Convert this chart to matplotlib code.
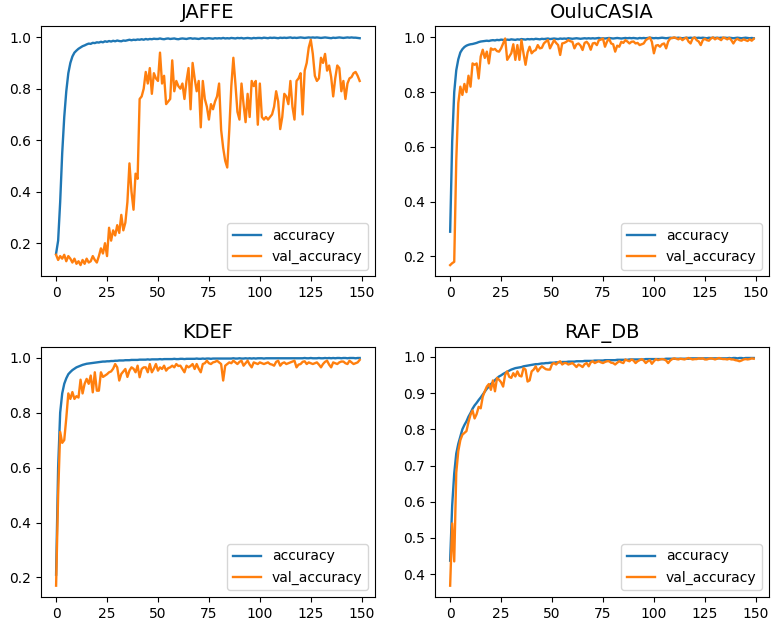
import numpy as np
import matplotlib
matplotlib.use("Agg")
import matplotlib.pyplot as plt

# epochs
epochs = np.arange(150)

# JAFFE
jaffe_acc = [0.16, 0.21, 0.36, 0.55, 0.69, 0.79, 0.86, 0.90, 0.925, 0.94,
             0.948, 0.955, 0.96, 0.965, 0.968, 0.972, 0.975, 0.974, 0.978, 0.977,
             0.98, 0.979, 0.982, 0.98, 0.984, 0.982, 0.985, 0.983, 0.986, 0.984,
             0.987, 0.985, 0.984, 0.987, 0.986, 0.988, 0.99, 0.988, 0.99, 0.989,
             0.991, 0.99, 0.992, 0.99, 0.993, 0.991, 0.993, 0.992, 0.994, 0.993,
             0.993, 0.995, 0.993, 0.992, 0.994, 0.995, 0.993, 0.994, 0.995, 0.993,
             0.992, 0.994, 0.995, 0.994, 0.993, 0.995, 0.996, 0.994, 0.995, 0.994,
             0.993, 0.995, 0.996, 0.994, 0.995, 0.996, 0.995, 0.994, 0.996, 0.995,
             0.996, 0.995, 0.997, 0.995, 0.996, 0.995, 0.997, 0.996, 0.995, 0.997,
             0.996, 0.997, 0.995, 0.996, 0.997, 0.996, 0.995, 0.997, 0.996, 0.997,
             0.997, 0.996, 0.998, 0.997, 0.996, 0.998, 0.997, 0.998, 0.997, 0.996,
             0.998, 0.997, 0.998, 0.997, 0.998, 0.999, 0.997, 0.998, 0.997, 0.998,
             0.999, 0.998, 0.997, 0.998, 0.999, 0.998, 0.999, 0.998, 0.999, 0.998,
             0.997, 0.998, 0.999, 0.998, 0.997, 0.996, 0.998, 0.997, 0.998, 0.999,
             0.998, 0.997, 0.998, 0.999, 0.998, 0.999, 0.998, 0.998, 0.997, 0.996]
jaffe_val = [0.155, 0.135, 0.15, 0.14, 0.155, 0.13, 0.15, 0.14, 0.125, 0.14,
             0.12, 0.13, 0.115, 0.135, 0.12, 0.14, 0.125, 0.13, 0.15, 0.135,
             0.125, 0.15, 0.18, 0.16, 0.20, 0.15, 0.26, 0.21, 0.25, 0.23,
             0.27, 0.24, 0.31, 0.25, 0.28, 0.36, 0.51, 0.40, 0.33, 0.47,
             0.45, 0.76, 0.77, 0.80, 0.865, 0.82, 0.88, 0.78, 0.86, 0.84,
             0.83, 0.94, 0.82, 0.85, 0.74, 0.75, 0.76, 0.91, 0.79, 0.83,
             0.81, 0.80, 0.82, 0.76, 0.83, 0.88, 0.72, 0.90, 0.84, 0.79,
             0.83, 0.65, 0.83, 0.76, 0.73, 0.68, 0.74, 0.72, 0.75, 0.77,
             0.82, 0.64, 0.57, 0.52, 0.494, 0.64, 0.81, 0.92, 0.82, 0.71,
             0.68, 0.82, 0.74, 0.67, 0.78, 0.69, 0.83, 0.81, 0.83, 0.66,
             0.82, 0.69, 0.68, 0.69, 0.68, 0.69, 0.70, 0.73, 0.79, 0.75,
             0.643, 0.69, 0.78, 0.77, 0.74, 0.83, 0.73, 0.68, 0.83, 0.84,
             0.86, 0.70, 0.87, 0.90, 0.96, 0.99, 0.935, 0.85, 0.83, 0.84,
             0.92, 0.90, 0.935, 0.87, 0.89, 0.845, 0.77, 0.84, 0.89, 0.88,
             0.79, 0.83, 0.76, 0.82, 0.84, 0.845, 0.86, 0.865, 0.85, 0.83]

# OuluCASIA
oulu_acc = [0.29, 0.62, 0.80, 0.88, 0.92, 0.945, 0.957, 0.965, 0.97, 0.973,
            0.975, 0.976, 0.978, 0.98, 0.983, 0.985, 0.986, 0.987, 0.988, 0.987,
            0.989, 0.99, 0.989, 0.991, 0.99, 0.992, 0.991, 0.99, 0.992, 0.991,
            0.993, 0.992, 0.991, 0.993, 0.992, 0.994, 0.993, 0.992, 0.994, 0.993,
            0.994, 0.993, 0.995, 0.994, 0.993, 0.995, 0.994, 0.995, 0.996, 0.994,
            0.995, 0.996, 0.995, 0.994, 0.996, 0.995, 0.996, 0.995, 0.997, 0.996,
            0.995, 0.996, 0.997, 0.996, 0.995, 0.996, 0.997, 0.996, 0.997, 0.996,
            0.997, 0.996, 0.997, 0.998, 0.996, 0.997, 0.996, 0.997, 0.998, 0.997,
            0.996, 0.997, 0.998, 0.997, 0.996, 0.997, 0.998, 0.997, 0.998, 0.997,
            0.998, 0.997, 0.996, 0.998, 0.997, 0.998, 0.997, 0.998, 0.999, 0.998,
            0.997, 0.998, 0.997, 0.998, 0.999, 0.998, 0.997, 0.998, 0.999, 0.998,
            0.999, 0.998, 0.999, 0.998, 0.997, 0.998, 0.999, 0.998, 0.999, 0.998,
            0.999, 0.998, 0.999, 0.998, 0.999, 0.998, 0.997, 0.999, 0.998, 0.999,
            0.998, 0.999, 0.998, 0.999, 0.998, 0.999, 0.998, 0.999, 0.998, 0.997,
            0.998, 0.999, 0.998, 0.997, 0.998, 0.999, 0.998, 0.997, 0.998, 0.997]
oulu_val = [0.168, 0.175, 0.18, 0.55, 0.76, 0.82, 0.79, 0.83, 0.80, 0.86,
            0.82, 0.905, 0.90, 0.905, 0.85, 0.93, 0.955, 0.925, 0.948, 0.905,
            0.96, 0.955, 0.958, 0.95, 0.948, 0.96, 0.978, 0.996, 0.918, 0.93,
            0.942, 0.975, 0.918, 0.972, 0.918, 0.99, 0.942, 0.90, 0.945, 0.966,
            0.942, 0.95, 0.954, 0.972, 0.96, 0.962, 0.978, 0.985, 0.99, 0.96,
            0.975, 0.99, 0.98, 0.972, 0.936, 0.978, 0.98, 0.984, 0.99, 0.986,
            0.984, 0.96, 0.975, 0.978, 0.97, 0.954, 0.98, 0.984, 0.975, 0.955,
            0.978, 0.98, 0.972, 0.99, 0.992, 0.996, 0.966, 0.985, 0.996, 0.978,
            0.975, 0.948, 0.97, 0.966, 0.984, 0.98, 0.99, 0.985, 0.978, 0.984,
            0.985, 0.978, 0.98, 0.972, 0.975, 0.978, 0.99, 0.995, 1.0, 0.984,
            0.942, 0.97, 0.972, 0.966, 0.975, 0.978, 0.96, 0.985, 0.996, 0.998,
            1.0, 0.997, 0.993, 0.998, 0.99, 0.996, 0.999, 0.985, 0.978, 0.996,
            1.0, 0.99, 0.985, 0.972, 0.99, 0.995, 0.99, 0.988, 0.996, 1.0,
            0.993, 0.998, 0.995, 0.99, 1.0, 0.997, 0.993, 0.998, 0.99, 0.978,
            0.99, 0.995, 0.99, 0.988, 0.993, 0.99, 0.987, 0.993, 0.988, 0.995]

# KDEF
kdef_acc = [0.21, 0.60, 0.80, 0.87, 0.905, 0.925, 0.94, 0.948, 0.955, 0.96,
            0.965, 0.968, 0.971, 0.974, 0.976, 0.978, 0.979, 0.98, 0.981, 0.982,
            0.983, 0.984, 0.985, 0.986, 0.986, 0.987, 0.987, 0.988, 0.988, 0.989,
            0.989, 0.99, 0.99, 0.99, 0.991, 0.991, 0.991, 0.992, 0.992, 0.992,
            0.992, 0.993, 0.993, 0.993, 0.993, 0.994, 0.993, 0.994, 0.994, 0.994,
            0.994, 0.995, 0.994, 0.995, 0.995, 0.995, 0.995, 0.995, 0.996, 0.995,
            0.995, 0.996, 0.996, 0.995, 0.996, 0.996, 0.996, 0.996, 0.996, 0.997,
            0.996, 0.996, 0.997, 0.996, 0.997, 0.997, 0.996, 0.997, 0.997, 0.997,
            0.997, 0.997, 0.997, 0.997, 0.997, 0.997, 0.997, 0.998, 0.997, 0.997,
            0.998, 0.997, 0.997, 0.998, 0.997, 0.998, 0.997, 0.998, 0.997, 0.998,
            0.998, 0.998, 0.997, 0.998, 0.998, 0.998, 0.998, 0.998, 0.998, 0.998,
            0.998, 0.998, 0.998, 0.998, 0.998, 0.998, 0.998, 0.998, 0.998, 0.998,
            0.998, 0.998, 0.999, 0.998, 0.998, 0.999, 0.998, 0.998, 0.998, 0.999,
            0.998, 0.998, 0.999, 0.998, 0.999, 0.998, 0.999, 0.998, 0.999, 0.999,
            0.998, 0.999, 0.999, 0.998, 0.999, 0.999, 0.999, 0.998, 0.999, 0.999]
kdef_val = [0.17, 0.50, 0.73, 0.69, 0.70, 0.78, 0.87, 0.85, 0.875, 0.85,
            0.86, 0.855, 0.92, 0.87, 0.905, 0.923, 0.905, 0.935, 0.874, 0.947,
            0.88, 0.88, 0.947, 0.93, 0.935, 0.94, 0.947, 0.95, 0.96, 0.977,
            0.965, 0.917, 0.941, 0.95, 0.959, 0.93, 0.953, 0.965, 0.96, 0.947,
            0.971, 0.929, 0.959, 0.965, 0.965, 0.947, 0.977, 0.947, 0.96, 0.977,
            0.953, 0.965, 0.959, 0.971, 0.953, 0.962, 0.965, 0.971, 0.965, 0.977,
            0.97, 0.971, 0.959, 0.947, 0.971, 0.965, 0.97, 0.977, 0.959, 0.977,
            0.96, 0.947, 0.977, 0.98, 0.989, 0.98, 0.977, 0.983, 0.985, 0.989,
            0.983, 0.977, 0.917, 0.971, 0.977, 0.983, 0.98, 0.989, 0.983, 0.977,
            0.985, 0.989, 0.971, 0.98, 0.989, 0.975, 0.965, 0.983, 0.98, 0.977,
            0.983, 0.98, 0.977, 0.98, 0.983, 0.977, 0.975, 0.971, 0.985, 0.989,
            0.971, 0.98, 0.983, 0.977, 0.98, 0.983, 0.986, 0.989, 0.965, 0.975,
            0.977, 0.985, 0.987, 0.977, 0.983, 0.98, 0.977, 0.98, 0.983, 0.975,
            0.965, 0.977, 0.985, 0.989, 0.975, 0.965, 0.983, 0.98, 0.977, 0.983,
            0.986, 0.986, 0.98, 0.977, 0.989, 0.983, 0.977, 0.98, 0.983, 0.992]

# RAF_DB
raf_acc = [0.437, 0.59, 0.678, 0.733, 0.76, 0.78, 0.80, 0.812, 0.822, 0.835,
           0.845, 0.857, 0.866, 0.873, 0.881, 0.888, 0.896, 0.904, 0.912, 0.918,
           0.925, 0.93, 0.936, 0.941, 0.946, 0.949, 0.953, 0.956, 0.959, 0.962,
           0.965, 0.967, 0.969, 0.97, 0.971, 0.972, 0.974, 0.975, 0.976, 0.977,
           0.978, 0.979, 0.98, 0.98, 0.981, 0.982, 0.982, 0.983, 0.983, 0.984,
           0.984, 0.984, 0.985, 0.985, 0.985, 0.986, 0.986, 0.986, 0.987, 0.987,
           0.987, 0.987, 0.988, 0.988, 0.988, 0.988, 0.989, 0.989, 0.989, 0.989,
           0.989, 0.99, 0.99, 0.99, 0.99, 0.99, 0.991, 0.991, 0.991, 0.991,
           0.991, 0.991, 0.992, 0.992, 0.992, 0.992, 0.992, 0.992, 0.993, 0.993,
           0.993, 0.993, 0.993, 0.993, 0.993, 0.993, 0.994, 0.994, 0.994, 0.994,
           0.994, 0.994, 0.994, 0.994, 0.994, 0.994, 0.995, 0.995, 0.995, 0.995,
           0.995, 0.995, 0.995, 0.995, 0.995, 0.995, 0.995, 0.995, 0.996, 0.996,
           0.996, 0.996, 0.996, 0.996, 0.996, 0.996, 0.996, 0.996, 0.996, 0.996,
           0.996, 0.996, 0.996, 0.996, 0.996, 0.996, 0.996, 0.997, 0.996, 0.997,
           0.997, 0.996, 0.997, 0.997, 0.996, 0.997, 0.997, 0.997, 0.997, 0.997]
raf_val = [0.368, 0.54, 0.435, 0.68, 0.74, 0.77, 0.785, 0.79, 0.795, 0.82,
           0.84, 0.852, 0.83, 0.842, 0.862, 0.858, 0.89, 0.905, 0.918, 0.925,
           0.909, 0.935, 0.905, 0.942, 0.937, 0.93, 0.918, 0.951, 0.96, 0.945,
           0.942, 0.955, 0.946, 0.96, 0.948, 0.946, 0.969, 0.965, 0.932, 0.935,
           0.96, 0.965, 0.974, 0.96, 0.968, 0.974, 0.97, 0.966, 0.965, 0.965,
           0.98, 0.983, 0.979, 0.985, 0.988, 0.979, 0.983, 0.983, 0.979, 0.981,
           0.983, 0.978, 0.972, 0.979, 0.976, 0.972, 0.98, 0.983, 0.974, 0.985,
           0.988, 0.983, 0.986, 0.988, 0.985, 0.983, 0.986, 0.988, 0.988, 0.984,
           0.983, 0.979, 0.984, 0.988, 0.985, 0.983, 0.993, 0.99, 0.988, 0.993,
           0.99, 0.983, 0.988, 0.991, 0.994, 0.99, 0.983, 0.988, 0.991, 0.981,
           0.988, 0.994, 0.991, 0.993, 0.994, 0.993, 0.99, 0.983, 0.99, 0.994,
           0.996, 0.994, 0.993, 0.995, 0.994, 0.993, 0.995, 0.997, 0.995, 0.993,
           0.994, 0.994, 0.996, 0.995, 0.996, 0.993, 0.993, 0.995, 0.996, 0.995,
           0.993, 0.995, 0.997, 0.995, 0.994, 0.994, 0.993, 0.995, 0.993, 0.993,
           0.991, 0.99, 0.988, 0.99, 0.993, 0.994, 0.993, 0.994, 0.996, 0.995]

titles = ["JAFFE", "OuluCASIA", "KDEF", "RAF_DB"]
acc_list = [jaffe_acc, oulu_acc, kdef_acc, raf_acc]
val_list = [jaffe_val, oulu_val, kdef_val, raf_val]

plt.rcParams['font.size'] = 10
fig = plt.figure(figsize=(7.72, 6.2), dpi=100)

for i in range(4):
    ax = fig.add_subplot(2, 2, i + 1)
    ax.plot(epochs, acc_list[i], label="accuracy", lw=1.7)
    ax.plot(epochs, val_list[i], label="val_accuracy", lw=1.7)
    ax.set_title(titles[i], fontsize=14)
    ax.legend(loc="lower right")

fig.subplots_adjust(left=0.053, right=0.996, bottom=0.037, top=0.958,
                    wspace=0.18, hspace=0.28)

fig.savefig("out.png", dpi=100)
